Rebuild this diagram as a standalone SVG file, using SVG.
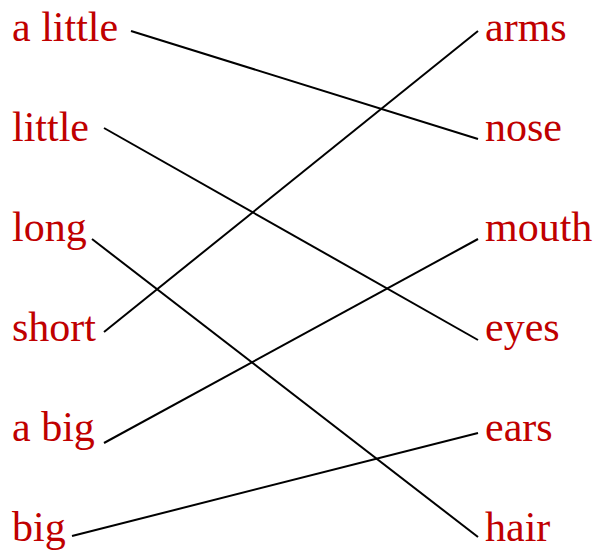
<svg xmlns="http://www.w3.org/2000/svg" width="597" height="551" viewBox="0 0 597 551">
<style>
text{font-family:"Liberation Serif","Times New Roman",serif;font-size:42px;fill:#c00000}
line{stroke:#000;stroke-width:2}
</style>
<rect width="597" height="551" fill="#fff"/>
<g id="connectors">
<line x1="131" y1="31" x2="478" y2="139"/>
<line x1="104" y1="128" x2="478" y2="340"/>
<line x1="92" y1="239" x2="478" y2="537"/>
<line x1="104" y1="332" x2="478" y2="31"/>
<line x1="104" y1="443" x2="478" y2="239"/>
<line x1="72" y1="536" x2="478" y2="433"/>
</g>
<g id="left-a-little"><text x="12" y="41">a little</text></g>
<g id="left-little"><text x="12" y="141">little</text></g>
<g id="left-long"><text x="12" y="241">long</text></g>
<g id="left-short"><text x="12" y="341">short</text></g>
<g id="left-a-big"><text x="12" y="441">a big</text></g>
<g id="left-big"><text x="12" y="541">big</text></g>
<g id="right-arms"><text x="485" y="41">arms</text></g>
<g id="right-nose"><text x="485" y="141">nose</text></g>
<g id="right-mouth"><text x="485" y="241">mouth</text></g>
<g id="right-eyes"><text x="485" y="341">eyes</text></g>
<g id="right-ears"><text x="485" y="441">ears</text></g>
<g id="right-hair"><text x="485" y="541">hair</text></g>
</svg>
